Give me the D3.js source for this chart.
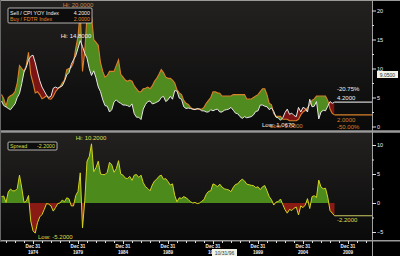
<!DOCTYPE html>
<html>
<head>
<meta charset="utf-8">
<script src="https://cdn.jsdelivr.net/npm/d3@7"></script>
<style>
  body { margin: 0; background: #000; }
  svg { display: block; }
  text { font-family: "Liberation Sans", Arial, sans-serif; }
</style>
</head>
<body>
<div id="chart"></div>
<script>
// quarterly readings, first one is mid 1971
let startYear = 1971.5;
let step = 0.25;

// Sell / CPI YOY Index (white line)
let cpi = [
  4.4, 3.6,
  3.4, 3.1, 2.9, 3.4,
  3.9, 5.0, 5.7, 7.4,
  9.4, 10.2, 11.5, 12.1,
  12.3, 11.0, 9.4, 7.9,
  6.8, 6.1, 5.4, 5.0,
  5.2, 6.6, 6.8, 6.6,
  6.8, 7.0, 7.8, 8.9,
  9.3, 10.7, 11.5, 12.2,
  13.5, 14.8, 13.8, 12.6,
  11.8, 10.0, 8.8, 9.6,
  8.4, 6.8, 6.0, 4.6,
  3.6, 3.5, 2.5, 2.9,
  4.2, 4.6, 4.2, 4.0,
  3.7, 3.7, 3.6, 3.4,
  3.9, 2.2, 1.6, 1.6,
  1.2, 3.0, 3.8, 4.3,
  4.4, 3.9, 4.0, 4.2,
  4.4, 5.0, 5.2, 4.3,
  4.6, 5.2, 4.7, 6.2,
  6.1, 4.9, 4.7, 3.4,
  3.1, 3.2, 3.1, 3.0,
  2.9, 3.1, 3.0, 2.7,
  2.7, 2.5, 2.5, 2.9,
  2.7, 2.9, 3.0, 2.5,
  2.5, 2.8, 2.9, 3.0,
  3.3, 2.8, 2.3, 2.2,
  1.7, 1.4, 1.7, 1.5,
  1.6, 1.7, 2.0, 2.6,
  2.7, 3.7, 3.7, 3.5,
  3.4, 2.9, 3.2, 2.6,
  1.6, 1.5, 1.07, 1.5,
  2.4, 3.0, 2.1, 2.3,
  1.9, 1.7, 3.3, 2.5,
  3.3, 3.1, 2.5, 4.7,
  3.4, 3.5, 4.3, 1.3,
  2.5, 2.8, 2.7, 3.5,
  4.3, 4.0, 4.2
];

// Buy / FDTR Index (orange line)
let fdtr = [
  5.5, 4.8,
  3.5, 5.0, 5.3, 5.5,
  6.0, 7.5, 10.5, 10.0,
  9.5, 10.5, 12.8, 9.0,
  7.5, 5.8, 6.0, 5.5,
  4.8, 5.0, 5.3, 4.8,
  4.7, 5.2, 6.0, 6.5,
  6.8, 7.5, 8.0, 9.8,
  10.0, 10.2, 11.0, 13.5,
  15.5, 20.0, 9.5, 13.0,
  19.0, 18.0, 19.0, 15.0,
  14.5, 14.0, 11.0, 9.5,
  8.5, 8.8, 9.5, 9.5,
  9.5, 10.5, 11.5, 9.0,
  8.5, 8.0, 7.8, 8.0,
  7.8, 7.0, 6.5, 6.0,
  6.0, 6.5, 6.6, 6.8,
  6.5, 7.0, 7.8, 8.3,
  9.0, 9.8, 9.3, 8.5,
  8.3, 8.3, 8.0, 7.5,
  6.3, 5.8, 5.5, 4.5,
  4.0, 3.8, 3.3, 3.0,
  3.0, 3.0, 3.0, 3.0,
  3.3, 4.0, 4.5, 5.0,
  6.0, 6.0, 5.8, 5.75,
  5.25, 5.25, 5.25, 5.25,
  5.25, 5.5, 5.5, 5.5,
  5.5, 5.5, 5.5, 4.75,
  4.75, 4.75, 5.0, 5.25,
  5.5, 6.0, 6.5, 6.5,
  5.5, 4.0, 3.75, 2.25,
  1.75, 1.75, 1.75, 1.25,
  1.25, 1.25, 1.0, 1.0,
  1.0, 1.0, 1.25, 2.0,
  2.5, 2.75, 3.25, 3.75,
  4.5, 4.75, 5.25, 5.25,
  5.25, 5.25, 5.25, 4.5,
  3.0, 2.25, 2.0
];

let yearLabels = [1974, 1979, 1984, 1989, 1994, 1999, 2004, 2009];
let topTicks = [0, 5, 10, 15, 20];
let topMinor = [2.5, 7.5, 12.5, 17.5];
let bottomTicks = [-5, 0, 5, 10];
let bottomMinor = [-2.5, 2.5, 7.5];

let rows = cpi.map(function(d, i) {
  return { t: startYear + i * step, cpi: d, fdtr: fdtr[i], spread: fdtr[i] - d };
});
let last = rows[rows.length - 1];

let W = 400, H = 256;
let left = 1, right = 372;
let topY0 = 1, topY1 = 130;
let botY0 = 133, botY1 = 240;

let x = d3.scaleLinear().domain([1975, 2010]).range([33, 348]);
let yTop = d3.scaleLinear().domain([0, 20]).range([126.5, 10.5]);
let yBot = d3.scaleLinear().domain([-5, 10]).range([232, 145]);

let svg = d3.select('#chart').append('svg')
  .attr('width', W)
  .attr('height', H)
  .style('background', '#000');

let defs = svg.append('defs');
let grad = defs.append('linearGradient').attr('id', 'bg')
  .attr('x1', 0).attr('y1', 0).attr('x2', 0).attr('y2', 1);
grad.append('stop').attr('offset', '0%').attr('stop-color', '#232120');
grad.append('stop').attr('offset', '100%').attr('stop-color', '#0a0a0a');

defs.append('clipPath').attr('id', 'clipTop')
  .append('rect').attr('x', left).attr('y', topY0).attr('width', right - left).attr('height', topY1 - topY0);
defs.append('clipPath').attr('id', 'clipBot')
  .append('rect').attr('x', left).attr('y', botY0).attr('width', right - left).attr('height', botY1 - botY0);

// region above the white line / above the orange line, for the fills
defs.append('clipPath').attr('id', 'aboveCpi')
  .append('path')
  .attr('d', d3.area().x(function(d) { return x(d.t); }).y0(topY0).y1(function(d) { return yTop(d.cpi); })(rows));
defs.append('clipPath').attr('id', 'aboveFdtr')
  .append('path')
  .attr('d', d3.area().x(function(d) { return x(d.t); }).y0(topY0).y1(function(d) { return yTop(d.fdtr); })(rows));
defs.append('clipPath').attr('id', 'posSpread')
  .append('rect').attr('x', left).attr('y', botY0).attr('width', right - left).attr('height', yBot(0) - botY0);
defs.append('clipPath').attr('id', 'negSpread')
  .append('rect').attr('x', left).attr('y', yBot(0)).attr('width', right - left).attr('height', botY1 - yBot(0));

// panel backgrounds
svg.append('rect').attr('x', left).attr('y', topY0).attr('width', right - left).attr('height', topY1 - topY0).attr('fill', 'url(#bg)');
svg.append('rect').attr('x', left).attr('y', botY0).attr('width', right - left).attr('height', botY1 - botY0).attr('fill', 'url(#bg)');

// ---- top panel
let topG = svg.append('g').attr('clip-path', 'url(#clipTop)');

topG.append('g').attr('clip-path', 'url(#aboveCpi)')
  .append('path')
  .attr('d', d3.area().x(function(d) { return x(d.t); }).y0(function(d) { return yTop(d.fdtr); }).y1(topY1)(rows))
  .attr('fill', '#4f8b1f');

topG.append('g').attr('clip-path', 'url(#aboveFdtr)')
  .append('path')
  .attr('d', d3.area().x(function(d) { return x(d.t); }).y0(function(d) { return yTop(d.cpi); }).y1(topY1)(rows))
  .attr('fill', '#7d1414');

let lineFdtr = d3.line().x(function(d) { return x(d.t); }).y(function(d) { return yTop(d.fdtr); });
let lineCpi = d3.line().x(function(d) { return x(d.t); }).y(function(d) { return yTop(d.cpi); });

topG.append('path').attr('d', lineFdtr(rows)).attr('fill', 'none').attr('stroke', '#d9802a').attr('stroke-width', 1.1);
topG.append('path').attr('d', lineCpi(rows)).attr('fill', 'none').attr('stroke', '#e6e6e6').attr('stroke-width', 1);

// last values carried to the right edge
topG.append('line')
  .attr('x1', x(last.t)).attr('x2', right)
  .attr('y1', yTop(last.cpi)).attr('y2', yTop(last.cpi))
  .attr('stroke', '#cfcfcf').attr('stroke-width', 1.2);
topG.append('line')
  .attr('x1', x(last.t)).attr('x2', right)
  .attr('y1', yTop(last.fdtr)).attr('y2', yTop(last.fdtr))
  .attr('stroke', '#d9802a').attr('stroke-width', 1.1);

// ---- bottom panel
let botG = svg.append('g').attr('clip-path', 'url(#clipBot)');
let areaSpread = d3.area().x(function(d) { return x(d.t); }).y0(yBot(0)).y1(function(d) { return yBot(d.spread); });

botG.append('g').attr('clip-path', 'url(#posSpread)')
  .append('path').attr('d', areaSpread(rows)).attr('fill', '#4d8a1c');
botG.append('g').attr('clip-path', 'url(#negSpread)')
  .append('path').attr('d', areaSpread(rows)).attr('fill', '#8a1a14');

botG.append('path')
  .attr('d', d3.line().x(function(d) { return x(d.t); }).y(function(d) { return yBot(d.spread); })(rows))
  .attr('fill', 'none').attr('stroke', '#d2d41e').attr('stroke-width', 1);
botG.append('line')
  .attr('x1', x(last.t)).attr('x2', right)
  .attr('y1', yBot(last.spread)).attr('y2', yBot(last.spread))
  .attr('stroke', '#c8cc60').attr('stroke-width', 1.2);

// ---- frame lines
svg.append('line').attr('x1', 0).attr('x2', W).attr('y1', 0.5).attr('y2', 0.5).attr('stroke', '#9a9a9a');
svg.append('line').attr('x1', 0).attr('x2', W).attr('y1', 131.5).attr('y2', 131.5).attr('stroke', '#9a9a9a').attr('stroke-width', 2.5);
svg.append('line').attr('x1', 0).attr('x2', W).attr('y1', 240.8).attr('y2', 240.8).attr('stroke', '#9a9a9a').attr('stroke-width', 1.5);
svg.append('line').attr('x1', 0.5).attr('x2', 0.5).attr('y1', 0).attr('y2', 241).attr('stroke', '#666');
svg.append('line').attr('x1', right + 0.5).attr('x2', right + 0.5).attr('y1', 0).attr('y2', H).attr('stroke', '#a0a0a0');

// ---- right axes
function styleAxis(g) {
  g.select('.domain').remove();
  g.selectAll('line').attr('stroke', '#ddd');
  g.selectAll('text').attr('fill', '#f0f0f0').style('font-size', '5.5px')
    .style('font-family', '"Liberation Sans", Arial, sans-serif');
}

svg.append('g').attr('transform', 'translate(' + right + ',0)')
  .call(d3.axisRight(yTop).tickValues(topTicks).tickSize(4).tickPadding(1).tickFormat(d3.format('d')))
  .call(styleAxis);
svg.append('g').attr('transform', 'translate(' + right + ',0)')
  .call(d3.axisRight(yTop).tickValues(topMinor).tickSize(2).tickFormat(''))
  .call(styleAxis);
svg.append('g').attr('transform', 'translate(' + right + ',0)')
  .call(d3.axisRight(yBot).tickValues(bottomTicks).tickSize(4).tickPadding(1).tickFormat(d3.format('d')))
  .call(styleAxis);
svg.append('g').attr('transform', 'translate(' + right + ',0)')
  .call(d3.axisRight(yBot).tickValues(bottomMinor).tickSize(2).tickFormat(''))
  .call(styleAxis);

// ---- bottom time axis
let minorYears = d3.range(1972, 2013);
svg.append('g').attr('transform', 'translate(0,241)')
  .call(d3.axisBottom(x).tickValues(minorYears).tickSize(2).tickFormat(''))
  .call(styleAxis);
let xAxis = svg.append('g').attr('transform', 'translate(0,241)')
  .call(d3.axisBottom(x).tickValues(yearLabels.map(function(d) { return d + 1; })).tickSize(3).tickFormat(''))
  .call(styleAxis);

let xl = svg.append('g').selectAll('g')
  .data(yearLabels)
  .enter()
  .append('g')
  .attr('transform', function(d) { return 'translate(' + x(d + 1) + ',0)'; });
xl.append('text').attr('y', 247.5).attr('text-anchor', 'middle')
  .attr('fill', '#f0f0f0').style('font-size', '4.6px').style('font-weight', 'bold')
  .text('Dec 31');
xl.append('text').attr('y', 254).attr('text-anchor', 'middle')
  .attr('fill', '#f0f0f0').style('font-size', '4.6px').style('font-weight', 'bold')
  .text(function(d) { return d; });

// cursor date box
svg.append('rect').attr('x', 212).attr('y', 249).attr('width', 25).attr('height', 7).attr('fill', '#f2f2e6');
svg.append('text').attr('x', 224.5).attr('y', 254.6).attr('text-anchor', 'middle')
  .attr('fill', '#333').style('font-size', '5px').text('10/31/96');

// current value box on the right axis
svg.append('rect').attr('x', 377).attr('y', 71).attr('width', 21).attr('height', 7).attr('fill', '#f2f2e6');
svg.append('text').attr('x', 387.5).attr('y', 76.6).attr('text-anchor', 'middle')
  .attr('fill', '#333').style('font-size', '5px').text('9.0500');

// ---- annotations
function label(txt, lx, ly, color, anchor, size) {
  svg.append('text').attr('x', lx).attr('y', ly)
    .attr('text-anchor', anchor || 'start')
    .attr('fill', color)
    .style('font-size', (size || 6) + 'px')
    .text(txt);
}

label('Hi: 20.0000', 78, 7, '#c8884a', 'middle');
label('Hi: 14.8000', 76, 37.5, '#f0f0f0', 'middle');
label('Low: 1.0000', 270, 127.5, '#c8884a');
label('Low: 1.0670', 262, 127, '#f0f0f0');
label('-20.75%', 337, 91, '#f0f0f0');
label('4.2000', 337, 100, '#f0f0f0');
label('2.0000', 337, 121.5, '#d9802a');
label('-50.00%', 337, 129, '#d9802a');

label('Hi: 10.2000', 91, 140, '#dede50', 'middle');
label('Low: -5.2000', 38, 239, '#dede50');
label('-2.2000', 337, 222, '#dede50');

// legends
let lg = svg.append('g');
lg.append('rect').attr('x', 8).attr('y', 8).attr('width', 84).attr('height', 15)
  .attr('fill', '#0c0c0c').attr('stroke', '#d8d8d8').attr('stroke-width', 0.8).attr('rx', 1);
lg.append('text').attr('x', 10).attr('y', 14.5).attr('fill', '#f0f0f0').style('font-size', '5.3px').text('Sell / CPI YOY Index');
lg.append('text').attr('x', 90).attr('y', 14.5).attr('text-anchor', 'end').attr('fill', '#f0f0f0').style('font-size', '5.3px').text('4.2000');
lg.append('text').attr('x', 10).attr('y', 21).attr('fill', '#e08a2a').style('font-size', '5.3px').text('Buy / FDTR Index');
lg.append('text').attr('x', 90).attr('y', 21).attr('text-anchor', 'end').attr('fill', '#e08a2a').style('font-size', '5.3px').text('2.0000');

let sg = svg.append('g');
sg.append('rect').attr('x', 8).attr('y', 142).attr('width', 49).attr('height', 8)
  .attr('fill', '#0c0c0c').attr('stroke', '#d8d8d8').attr('stroke-width', 0.8).attr('rx', 1);
sg.append('text').attr('x', 10).attr('y', 148.2).attr('fill', '#dede50').style('font-size', '5.3px').text('Spread');
sg.append('text').attr('x', 55).attr('y', 148.2).attr('text-anchor', 'end').attr('fill', '#dede50').style('font-size', '5.3px').text('-2.2000');
</script>
</body>
</html>
